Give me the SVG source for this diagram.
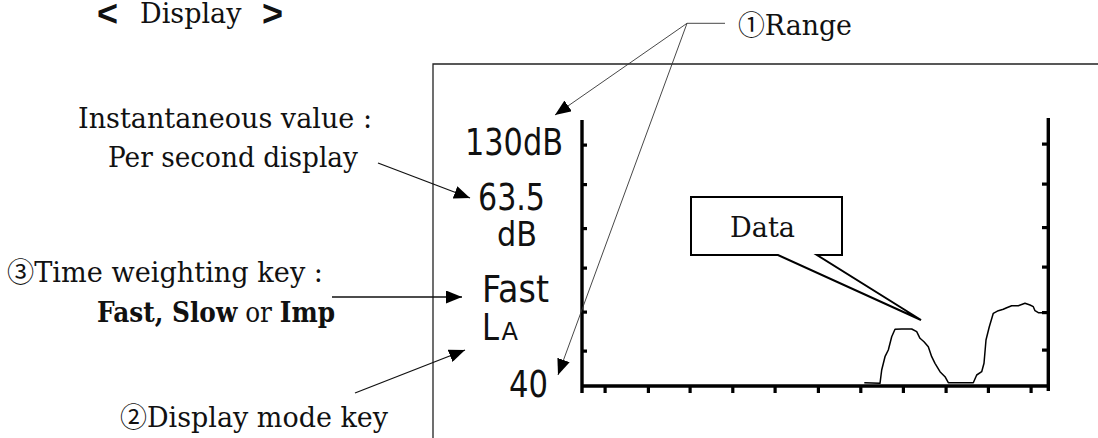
<svg xmlns="http://www.w3.org/2000/svg" width="1098" height="438" viewBox="0 0 1098 438">
<style>
.serif{font-family:"DejaVu Serif","Noto Sans CJK JP",serif;font-size:27px;fill:#111}
.b{font-weight:bold}
.lcd{font-family:"DejaVu Sans","Liberation Sans",sans-serif;font-size:38px;fill:#111}
.thin{stroke:#333;stroke-width:0.9;fill:none}
.arr{stroke:#111;stroke-width:1.3;fill:none}
.axis{stroke:#000;stroke-width:3.4;fill:none}
.tick{fill:#000}
</style>
<defs>
<marker id="ah" markerUnits="userSpaceOnUse" markerWidth="17" markerHeight="13" refX="16" refY="6.5" orient="auto">
<path d="M0,0 L16,6.5 L0,13 z" fill="#000"/>
</marker>
</defs>
<rect width="1098" height="438" fill="#fff"/>

<g id="title">
<text class="serif" y="23"><tspan x="97" y="26" style="font-family:'Liberation Sans',sans-serif;font-weight:bold;font-size:36px">&lt; </tspan><tspan x="140" y="23">Display </tspan><tspan x="262" y="26" style="font-family:'Liberation Sans',sans-serif;font-weight:bold;font-size:36px">&gt;</tspan></text>
</g>

<g id="label-instantaneous">
<text class="serif" x="78" y="128" textLength="294" lengthAdjust="spacingAndGlyphs">Instantaneous value :</text>
<text class="serif" x="108" y="167" textLength="250" lengthAdjust="spacingAndGlyphs">Per second display</text>
</g>

<g id="label-time-weighting">
<text class="serif" x="7" y="282" textLength="316" lengthAdjust="spacingAndGlyphs">③Time weighting key :</text>
<text class="serif" x="97" y="322" textLength="238" lengthAdjust="spacingAndGlyphs"><tspan class="b">Fast, Slow</tspan> or <tspan class="b">Imp</tspan></text>
</g>

<g id="label-display-mode">
<text class="serif" x="120" y="427" textLength="268" lengthAdjust="spacingAndGlyphs">②Display mode key</text>
</g>

<g id="label-range">
<text class="serif" x="738" y="35" textLength="114" lengthAdjust="spacingAndGlyphs">①Range</text>
</g>

<g id="display-frame">
<path d="M1098,64 H433 V438" fill="none" stroke="#222" stroke-width="1.3"/>
</g>

<g id="readings">
<text class="lcd" x="465" y="155" textLength="98" lengthAdjust="spacingAndGlyphs">130dB</text>
<text class="lcd" x="478" y="210" textLength="67" lengthAdjust="spacingAndGlyphs">63.5</text>
<text class="lcd" x="497" y="246" style="font-size:34px" textLength="40" lengthAdjust="spacingAndGlyphs">dB</text>
<text class="lcd" x="482" y="302" textLength="67" lengthAdjust="spacingAndGlyphs">Fast</text>
<text class="lcd" x="482" y="340" textLength="17" lengthAdjust="spacingAndGlyphs">L</text>
<text class="lcd" x="501.5" y="340" style="font-size:25px" textLength="16.5" lengthAdjust="spacingAndGlyphs">A</text>
<text class="lcd" x="509" y="397" textLength="39" lengthAdjust="spacingAndGlyphs">40</text>
</g>

<g id="chart">
<path class="axis" d="M582,120 V393 M580.3,386 H1050 M1048.3,118 V391"/>
<g class="tick">
<rect x="582" y="143.5" width="5" height="3.2"/>
<rect x="582" y="183" width="5" height="3.2"/>
<rect x="582" y="227" width="5" height="3.2"/>
<rect x="582" y="266.5" width="5" height="3.2"/>
<rect x="582" y="310.5" width="5" height="3.2"/>
<rect x="582" y="349.5" width="5" height="3.2"/>
<rect x="1042" y="142.5" width="6" height="3.2"/>
<rect x="1042" y="182.5" width="6" height="3.2"/>
<rect x="1042" y="226" width="6" height="3.2"/>
<rect x="1042" y="265.5" width="6" height="3.2"/>
<rect x="1042" y="311" width="6" height="3.2"/>
<rect x="1042" y="348.5" width="6" height="3.2"/>
<rect x="603.5" y="386" width="3.2" height="7"/>
<rect x="646.8" y="386" width="3.2" height="7"/>
<rect x="688.5" y="386" width="3.2" height="7"/>
<rect x="731.2" y="386" width="3.2" height="7"/>
<rect x="773.5" y="386" width="3.2" height="7"/>
<rect x="816.8" y="386" width="3.2" height="7"/>
<rect x="859.2" y="386" width="3.2" height="7"/>
<rect x="901.8" y="386" width="3.2" height="7"/>
<rect x="944.5" y="386" width="3.2" height="7"/>
<rect x="986.8" y="386" width="3.2" height="7"/>
<rect x="1029.5" y="386" width="3.2" height="7"/>
</g>
<path id="data-curve" fill="none" stroke="#000" stroke-width="1.5" stroke-linejoin="round" d="M864.3,382.7 L880,383.3 L881.7,370 L885,356.7 L888.3,350 L891.7,336.7 L895,329.3 L901.7,329 L911.7,329 L916.7,331.7 L920,338.3 L924,341.7 L928.3,346.7 L931.7,356.7 L935,363.3 L940,371.7 L945,376.7 L948.3,382.7 L973.3,382.7 L976.7,375 L981.7,371.7 L984,363.3 L986,340 L989.3,326.7 L993.3,313.3 L998.3,310.7 L1003.3,309.3 L1006.7,307.7 L1011.7,305.7 L1018.3,305.7 L1025,303.3 L1030,305 L1033.3,306.7 L1035,310.7 L1038.3,312.7 L1045,312.7"/>
</g>

<g id="data-callout">
<path d="M691,197 H842 V255 H817 L921,320 L778,255 H691 Z" fill="#fff" stroke="#000" stroke-width="2"/>
<text class="serif" x="762.5" y="237" text-anchor="middle" textLength="65" lengthAdjust="spacingAndGlyphs">Data</text>
</g>

<g id="connectors">
<path class="thin" d="M687,23.3 H725"/>
<line class="thin" x1="687" y1="23.3" x2="555" y2="115" marker-end="url(#ah)"/>
<line class="thin" x1="687" y1="23.3" x2="558" y2="375" marker-end="url(#ah)"/>
<line class="arr" x1="378" y1="163" x2="470" y2="198" marker-end="url(#ah)"/>
<line class="arr" x1="332" y1="297" x2="462" y2="297" marker-end="url(#ah)"/>
<line class="arr" x1="355" y1="393" x2="465" y2="350" marker-end="url(#ah)"/>
</g>
</svg>
